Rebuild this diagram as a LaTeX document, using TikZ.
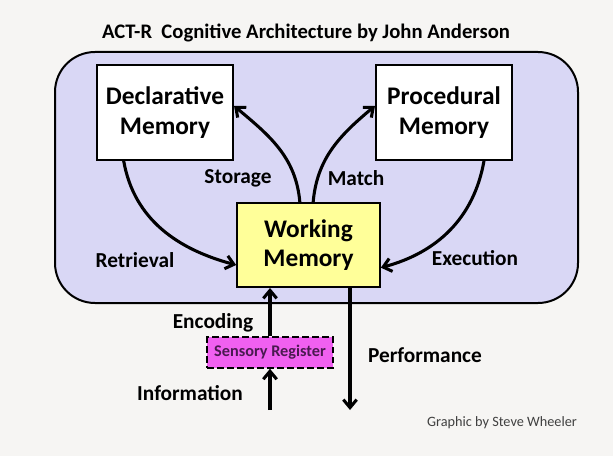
\documentclass[tikz,border=0pt]{standalone}
\usepackage{fontspec}
\setmainfont{Carlito}
\usetikzlibrary{arrows.meta,calc}
\definecolor{paper}{HTML}{F6F5F3}
\definecolor{lavender}{HTML}{D9D7F5}
\definecolor{wmyellow}{HTML}{FFFF99}
\definecolor{sensmag}{HTML}{F060F0}
\definecolor{sensink}{HTML}{4A1A50}

\begin{document}
\begin{tikzpicture}[x=0.75pt,y=-0.75pt,
  mem/.style={draw,line width=1.5pt,fill=white,align=center,font=\fontsize{19}{22}\selectfont\bfseries,
    minimum width=102pt,minimum height=71pt},
  arr/.style={line width=2.3pt,-{Straight Barb[length=6pt,width=10pt,line width=2.3pt]}},
  lbl/.style={font=\fontsize{16}{18}\selectfont\bfseries}]
\fill[paper] (0,0) rectangle (613,456);
\node[font=\fontsize{15.5}{18}\selectfont\bfseries] (title) at (306,33) {ACT-R\ \ Cognitive Architecture by John Anderson};
\draw[line width=1.5pt,fill=lavender,rounded corners=30pt] (55,52) rectangle (578,303);
\node[mem] (decl) at (165,112.5) {Declarative\\Memory};
\node[mem] (proc) at (444,112.5) {Procedural\\Memory};
\node[mem,fill=wmyellow,minimum width=107pt,minimum height=63pt] (wm) at (308.5,245) {Working\\Memory};
\node[draw,dash pattern=on 5pt off 2.5pt,line width=1.5pt,fill=sensmag,text=sensink,minimum width=94pt,minimum height=23pt,
  font=\fontsize{12.2}{14}\selectfont\bfseries] (sens) at (270,352.5) {Sensory Register};
\coordinate (info) at (270,410);
\coordinate (perf) at (350,410);
% curved links
\draw[arr] ([xshift=-6.5pt]wm.north) to[out=95,in=-40] ([yshift=5pt]decl.east);
\draw[arr] ([xshift=3.5pt]wm.north) to[out=85,in=220] ([yshift=5pt]proc.west);
\draw[arr] ([xshift=-31pt]decl.south) to[out=-80,in=165] ([yshift=-15pt]wm.west);
\draw[arr] ([xshift=30pt]proc.south) to[out=-100,in=15] ([yshift=-17pt]wm.east);
% straight links
\draw[arr] (sens.north) -- (sens.north|-wm.south);
\draw[arr] (info) -- (sens.south);
\draw[arr] (perf|-wm.south) -- (perf);
\node[lbl] (storage) at (238,178) {Storage};
\node[lbl] (match) at (356,178) {Match};
\node[lbl] (retr) at (135,260) {Retrieval};
\node[lbl] (exec) at (475,258) {Execution};
\node[lbl] (enc) at (213,323) {Encoding};
\node[lbl] (perfl) at (425,355) {Performance};
\node[lbl] (infol) at (190,393) {Information};
\node[font=\fontsize{10.7}{12}\selectfont,text=black!75] (credit) at (502,423) {Graphic by Steve Wheeler};
\end{tikzpicture}
\end{document}
